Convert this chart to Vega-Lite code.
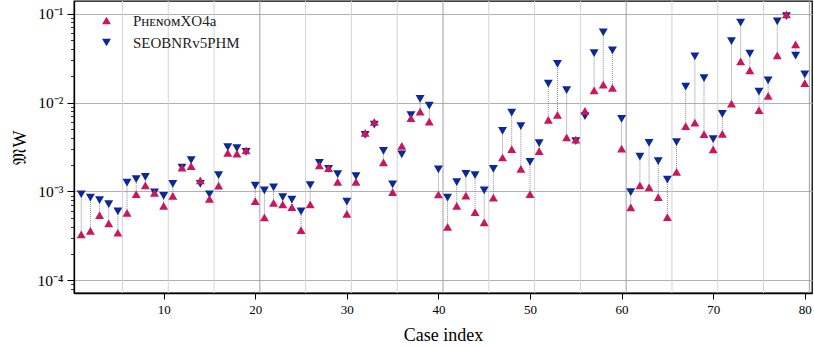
{
  "$schema": "https://vega.github.io/schema/vega-lite/v6.json",
  "width": 738,
  "height": 292,
  "autosize": {"type": "none"},
  "padding": {"left": 74, "top": 1, "right": 2, "bottom": 54},
  "background": "white",
  "config": {
    "view": {"stroke": "black", "strokeWidth": 1.3},
    "font": "Liberation Serif"
  },
  "datasets": {
    "cases": [
      {"case": 1, "phenom": 3.29e-4, "seob": 9.3e-4},
      {"case": 2, "phenom": 3.6e-4, "seob": 8.5e-4},
      {"case": 3, "phenom": 5.4e-4, "seob": 8.0e-4},
      {"case": 4, "phenom": 4.37e-4, "seob": 7.2e-4},
      {"case": 5, "phenom": 3.43e-4, "seob": 5.96e-4},
      {"case": 6, "phenom": 5.75e-4, "seob": 1.26e-3},
      {"case": 7, "phenom": 9.33e-4, "seob": 1.38e-3},
      {"case": 8, "phenom": 1.17e-3, "seob": 1.46e-3},
      {"case": 9, "phenom": 9.66e-4, "seob": 9.75e-4},
      {"case": 10, "phenom": 6.9e-4, "seob": 8.94e-4},
      {"case": 11, "phenom": 8.9e-4, "seob": 1.22e-3},
      {"case": 12, "phenom": 1.85e-3, "seob": 1.86e-3},
      {"case": 13, "phenom": 1.93e-3, "seob": 2.25e-3},
      {"case": 14, "phenom": 1.33e-3, "seob": 1.22e-3},
      {"case": 15, "phenom": 8.27e-4, "seob": 9.3e-4},
      {"case": 16, "phenom": 1.16e-3, "seob": 1.53e-3},
      {"case": 17, "phenom": 2.72e-3, "seob": 3.15e-3},
      {"case": 18, "phenom": 2.67e-3, "seob": 3.07e-3},
      {"case": 19, "phenom": 2.89e-3, "seob": 2.79e-3},
      {"case": 20, "phenom": 7.79e-4, "seob": 1.16e-3},
      {"case": 21, "phenom": 5.1e-4, "seob": 1.03e-3},
      {"case": 22, "phenom": 7.46e-4, "seob": 1.11e-3},
      {"case": 23, "phenom": 7.15e-4, "seob": 8.63e-4},
      {"case": 24, "phenom": 6.67e-4, "seob": 8.1e-4},
      {"case": 25, "phenom": 3.68e-4, "seob": 5.96e-4},
      {"case": 26, "phenom": 7.15e-4, "seob": 1.18e-3},
      {"case": 27, "phenom": 1.96e-3, "seob": 2.1e-3},
      {"case": 28, "phenom": 1.83e-3, "seob": 1.8e-3},
      {"case": 29, "phenom": 1.28e-3, "seob": 1.57e-3},
      {"case": 30, "phenom": 5.61e-4, "seob": 7.66e-4},
      {"case": 31, "phenom": 1.28e-3, "seob": 1.49e-3},
      {"case": 32, "phenom": 4.56e-3, "seob": 4.33e-3},
      {"case": 33, "phenom": 6.07e-3, "seob": 5.66e-3},
      {"case": 34, "phenom": 2.12e-3, "seob": 2.86e-3},
      {"case": 35, "phenom": 9.84e-4, "seob": 1.2e-3},
      {"case": 36, "phenom": 3.26e-3, "seob": 2.62e-3},
      {"case": 37, "phenom": 6.67e-3, "seob": 7.21e-3},
      {"case": 38, "phenom": 7.93e-3, "seob": 1.1e-2},
      {"case": 39, "phenom": 6.12e-3, "seob": 9.25e-3},
      {"case": 40, "phenom": 9.24e-4, "seob": 1.77e-3},
      {"case": 41, "phenom": 4.0e-4, "seob": 8.5e-4},
      {"case": 42, "phenom": 6.9e-4, "seob": 1.27e-3},
      {"case": 43, "phenom": 9.0e-4, "seob": 1.58e-3},
      {"case": 44, "phenom": 5.86e-4, "seob": 1.53e-3},
      {"case": 45, "phenom": 4.48e-4, "seob": 1.03e-3},
      {"case": 46, "phenom": 8.5e-4, "seob": 1.8e-3},
      {"case": 47, "phenom": 2.41e-3, "seob": 4.81e-3},
      {"case": 48, "phenom": 2.99e-3, "seob": 7.73e-3},
      {"case": 49, "phenom": 1.8e-3, "seob": 5.42e-3},
      {"case": 50, "phenom": 9.33e-4, "seob": 2.15e-3},
      {"case": 51, "phenom": 2.84e-3, "seob": 3.49e-3},
      {"case": 52, "phenom": 6.38e-3, "seob": 1.63e-2},
      {"case": 53, "phenom": 7.26e-3, "seob": 2.72e-2},
      {"case": 54, "phenom": 4.05e-3, "seob": 1.38e-2},
      {"case": 55, "phenom": 3.84e-3, "seob": 3.68e-3},
      {"case": 56, "phenom": 8.05e-3, "seob": 7.02e-3},
      {"case": 57, "phenom": 1.37e-2, "seob": 3.61e-2},
      {"case": 58, "phenom": 1.59e-2, "seob": 6.17e-2},
      {"case": 59, "phenom": 1.46e-2, "seob": 3.87e-2},
      {"case": 60, "phenom": 3.04e-3, "seob": 6.55e-3},
      {"case": 61, "phenom": 6.61e-4, "seob": 9.84e-4},
      {"case": 62, "phenom": 1.17e-3, "seob": 2.47e-3},
      {"case": 63, "phenom": 1.11e-3, "seob": 3.52e-3},
      {"case": 64, "phenom": 8.63e-4, "seob": 2.19e-3},
      {"case": 65, "phenom": 5.15e-4, "seob": 1.36e-3},
      {"case": 66, "phenom": 1.66e-3, "seob": 3.58e-3},
      {"case": 67, "phenom": 5.42e-3, "seob": 1.51e-2},
      {"case": 68, "phenom": 5.96e-3, "seob": 3.32e-2},
      {"case": 69, "phenom": 4.41e-3, "seob": 1.88e-2},
      {"case": 70, "phenom": 2.97e-3, "seob": 3.87e-3},
      {"case": 71, "phenom": 4.45e-3, "seob": 7.46e-3},
      {"case": 72, "phenom": 9.75e-3, "seob": 4.93e-2},
      {"case": 73, "phenom": 2.91e-2, "seob": 7.92e-2},
      {"case": 74, "phenom": 2.31e-2, "seob": 3.56e-2},
      {"case": 75, "phenom": 8.2e-3, "seob": 1.33e-2},
      {"case": 76, "phenom": 1.19e-2, "seob": 1.78e-2},
      {"case": 77, "phenom": 3.4e-2, "seob": 8.2e-2},
      {"case": 78, "phenom": 9.83e-2, "seob": 9.42e-2},
      {"case": 79, "phenom": 4.52e-2, "seob": 3.38e-2},
      {"case": 80, "phenom": 1.66e-2, "seob": 2.08e-2}
    ],
    "minorSep": [{"x": 5.5}, {"x": 10.5}, {"x": 15.5}, {"x": 25.5}, {"x": 30.5}, {"x": 35.5}, {"x": 45.5}, {"x": 50.5}, {"x": 55.5}, {"x": 65.5}, {"x": 70.5}, {"x": 75.5}],
    "majorSep": [{"x": 20.5}, {"x": 40.5}, {"x": 60.5}, {"x": 80.5}]
  },
  "layer": [
    {
      "data": {"name": "minorSep"},
      "mark": {"type": "rule", "color": "#d4d4d4", "strokeWidth": 1},
      "encoding": {
        "x": {"field": "x", "type": "quantitative", "scale": {"domain": [0.21, 80.79], "nice": false, "zero": false}}
      }
    },
    {
      "data": {"name": "majorSep"},
      "mark": {"type": "rule", "color": "#a0a0a0", "strokeWidth": 1},
      "encoding": {
        "x": {"field": "x", "type": "quantitative"}
      }
    },
    {
      "data": {"name": "cases"},
      "mark": {"type": "rule", "color": "#8a8a8a", "strokeWidth": 1, "strokeDash": [1, 1]},
      "encoding": {
        "x": {"field": "case", "type": "quantitative"},
        "y": {"field": "phenom", "type": "quantitative"},
        "y2": {"field": "seob"}
      }
    },
    {
      "data": {"name": "cases"},
      "transform": [{"fold": ["seob", "phenom"], "as": ["model", "value"]}],
      "mark": {"type": "point", "filled": true, "opacity": 1, "size": 80},
      "encoding": {
        "x": {
          "field": "case", "type": "quantitative",
          "axis": {
            "values": [10, 20, 30, 40, 50, 60, 70, 80],
            "grid": false,
            "domainColor": "black", "domainWidth": 1.3,
            "tickColor": "black", "tickSize": 6, "tickWidth": 1,
            "labelFontSize": 13, "labelColor": "black", "labelPadding": 4,
            "title": "Case index", "titleFontSize": 18, "titleFontWeight": "normal", "titleColor": "black", "titlePadding": 10
          }
        },
        "y": {
          "field": "value", "type": "quantitative",
          "scale": {"type": "log", "domain": [7.2e-5, 0.139], "nice": false},
          "axis": {
            "values": [8e-5, 9e-5, 0.0001, 0.0002, 0.0003, 0.0004, 0.0005, 0.0006, 0.0007, 0.0008, 0.0009, 0.001, 0.002, 0.003, 0.004, 0.005, 0.006, 0.007, 0.008, 0.009, 0.01, 0.02, 0.03, 0.04, 0.05, 0.06, 0.07, 0.08, 0.09, 0.1],
            "labelExpr": "datum.value == 0.1 ? '10⁻¹' : datum.value == 0.01 ? '10⁻²' : datum.value == 0.001 ? '10⁻³' : datum.value == 0.0001 ? '10⁻⁴' : ''",
            "labelOverlap": false,
            "labelFontSize": 15.5, "labelColor": "black", "labelPadding": 4,
            "domainColor": "black", "domainWidth": 1.3,
            "tickColor": "black",
            "tickSize": {"condition": {"test": "indexof([0.1, 0.01, 0.001, 0.0001], datum.value) >= 0", "value": 7}, "value": 3.5},
            "tickWidth": {"condition": {"test": "indexof([0.1, 0.01, 0.001, 0.0001], datum.value) >= 0", "value": 1}, "value": 0.8},
            "grid": true,
            "gridColor": "#b0b0b0", "gridWidth": 1,
            "gridOpacity": {"condition": {"test": "indexof([0.1, 0.01, 0.001, 0.0001], datum.value) >= 0", "value": 1}, "value": 0},
            "title": "𝔐W", "titleFontSize": 18, "titleFontWeight": "normal", "titleColor": "black", "titlePadding": 8
          }
        },
        "color": {
          "field": "model", "type": "nominal",
          "scale": {"domain": ["phenom", "seob"], "range": ["#C8175D", "#0A2896"]},
          "legend": {
            "title": null, "orient": "none", "legendX": 25, "legendY": 12,
            "labelExpr": "datum.label == 'phenom' ? 'PʜᴇɴᴏᴍXO4a' : 'SEOBNRv5PHM'",
            "labelFontSize": 15, "labelColor": "#222", "labelOffset": 19,
            "symbolSize": 80, "rowPadding": 6
          }
        },
        "shape": {
          "field": "model", "type": "nominal",
          "scale": {"domain": ["phenom", "seob"], "range": ["triangle-up", "triangle-down"]}
        },
        "order": {"field": "model", "sort": "descending"}
      }
    }
  ]
}
